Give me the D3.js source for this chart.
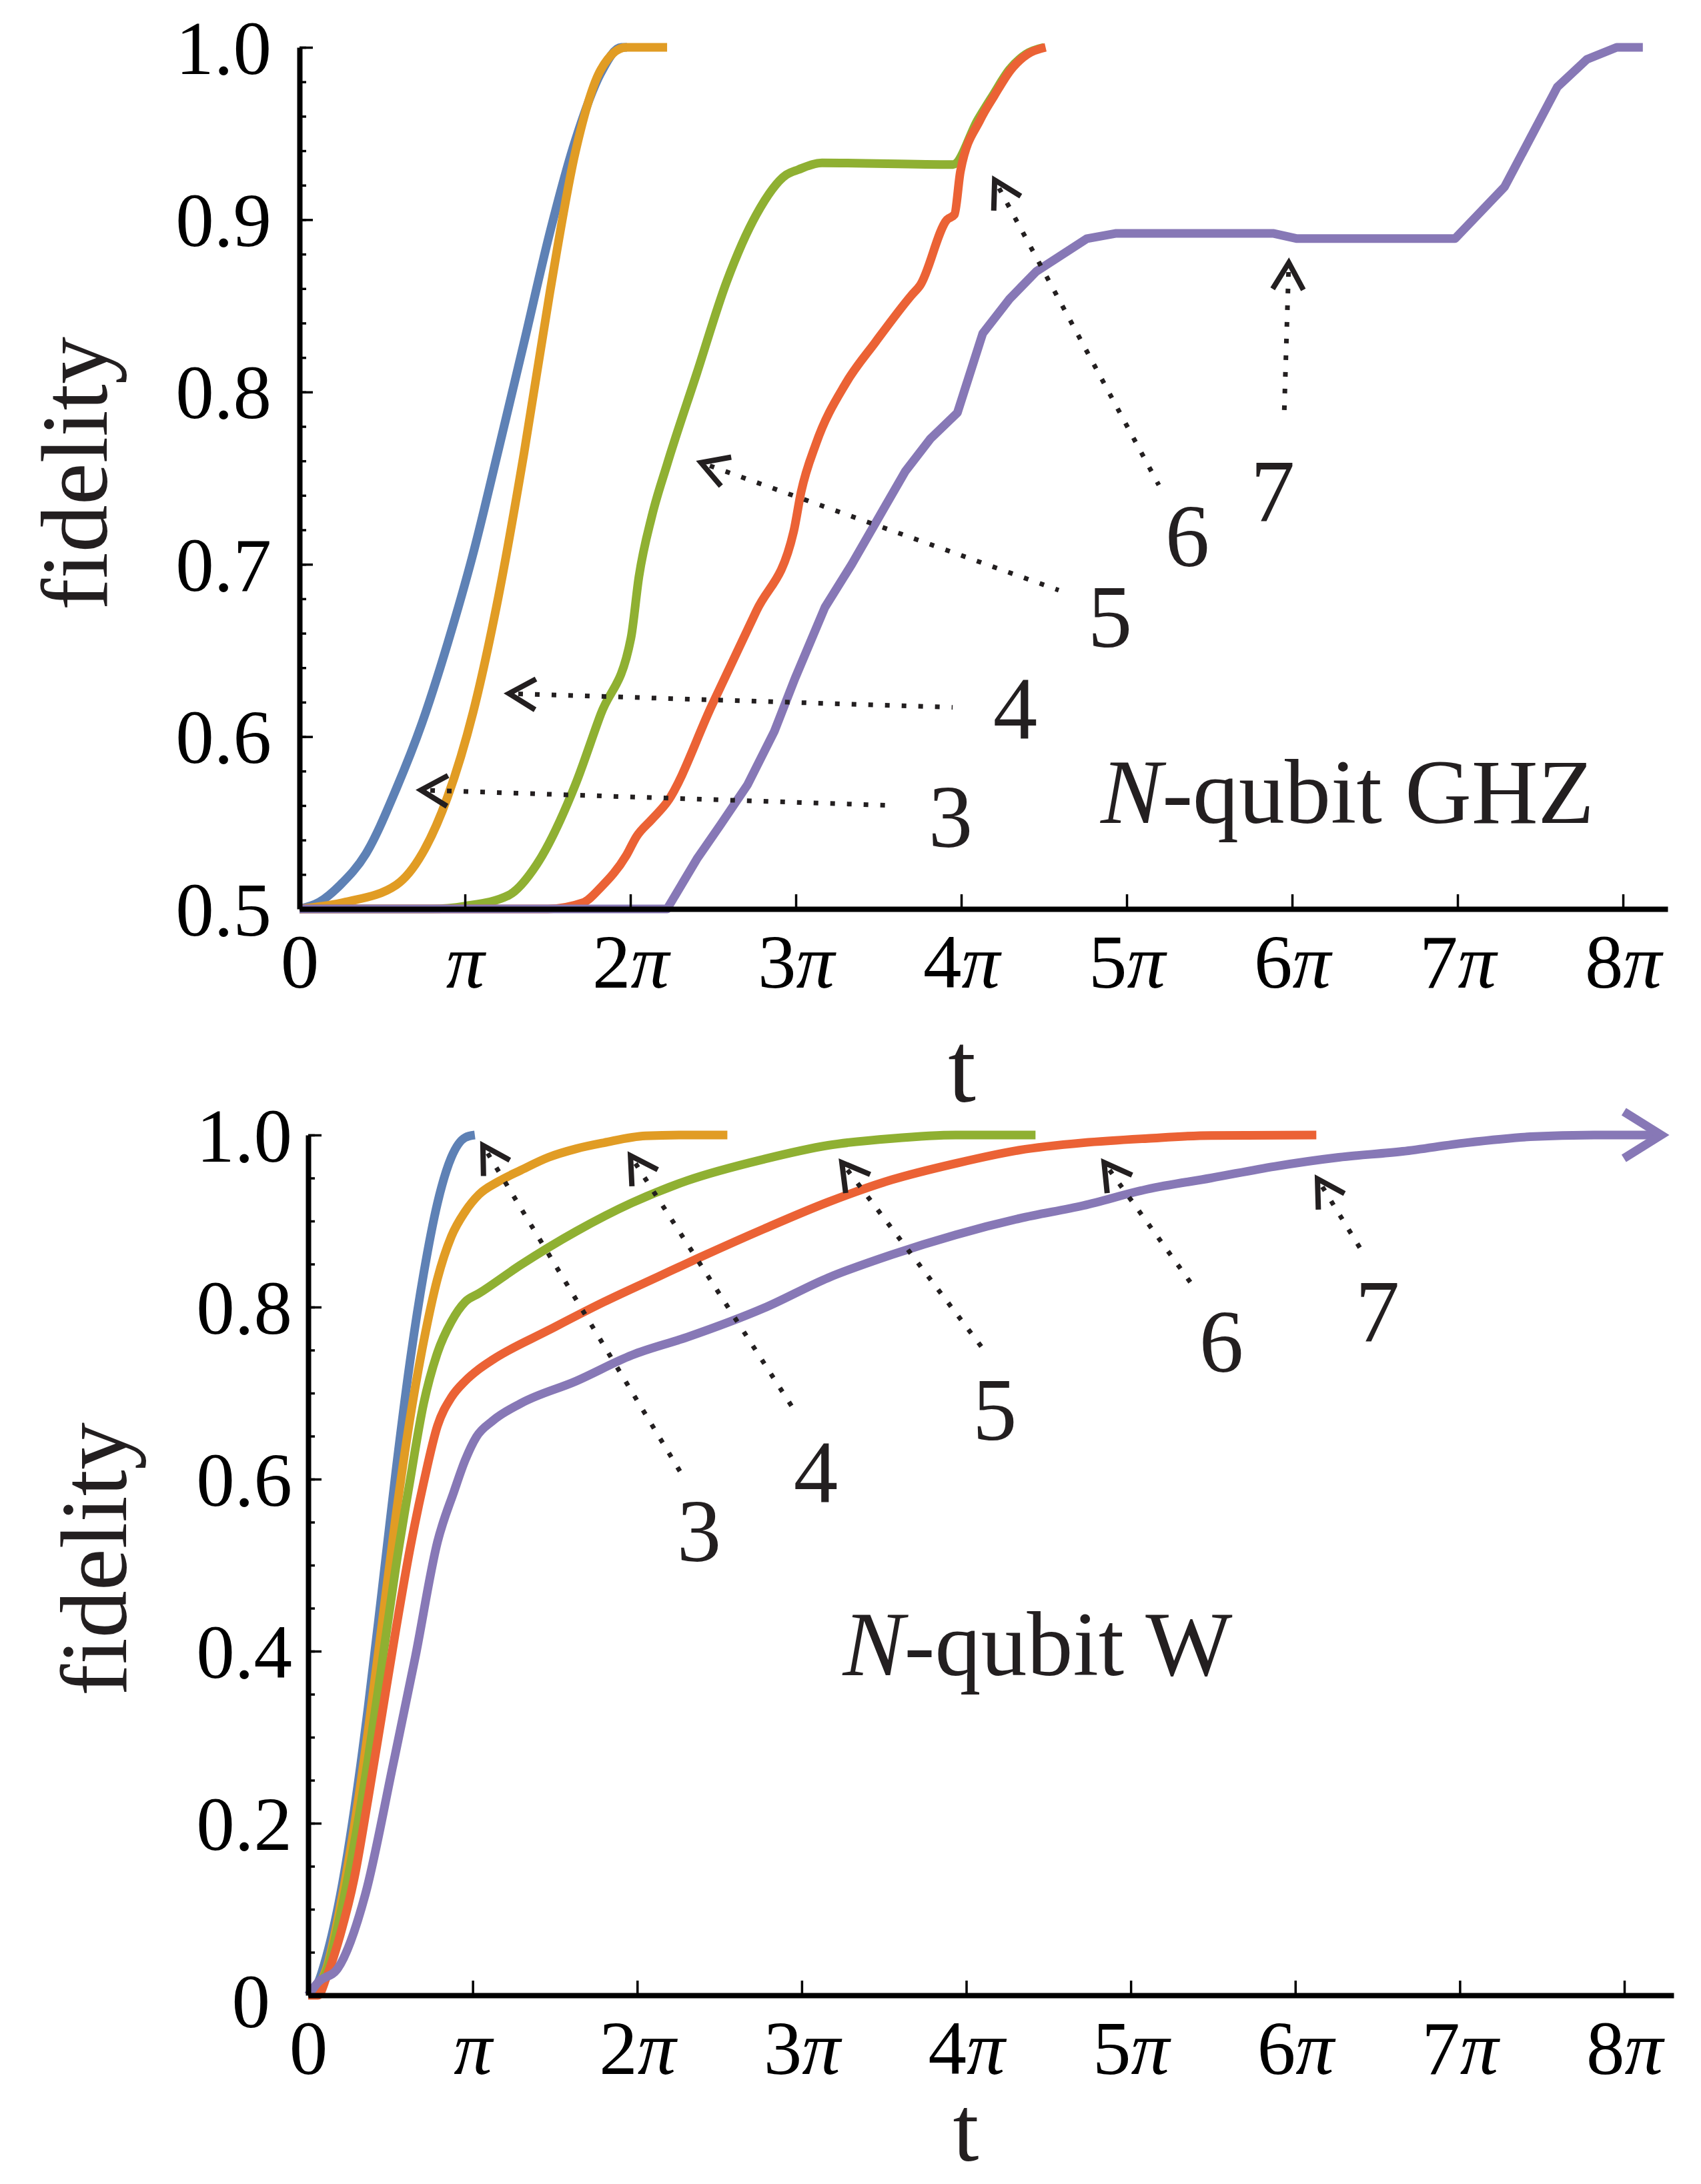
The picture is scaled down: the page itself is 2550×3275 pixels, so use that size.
<!DOCTYPE html>
<html lang="en">
<head>
<meta charset="utf-8">
<title>N-qubit GHZ and W fidelity</title>
<script src="https://d3js.org/d3.v7.min.js"></script>
<style>
  body { margin: 0; background: #fff; }
  svg { display: block; font-family: "Liberation Serif", "Times New Roman", serif; }
</style>
</head>
<body>
<div id="chart"></div>
<script>
// ---------- data (t in units of pi, fidelity) ----------
var seriesNames = ["3", "4", "5", "6", "7"];
var colors = ["#5E81B5", "#E19C24", "#8FB032", "#EB6235", "#8778B6"];

// N-qubit GHZ
var ghz3 = [[0,0.5],[0.12,0.504],[0.247,0.514],[0.401,0.532],[0.586,0.570],[0.741,0.608],[0.895,0.654],[1.049,0.706],[1.204,0.767],[1.358,0.829],[1.512,0.892],[1.667,0.946],[1.821,0.985],[1.944,1.0],[1.98,1.0]];
var ghz4 = [[0,0.5],[0.278,0.504],[0.586,0.514],[0.741,0.532],[0.895,0.565],[1.049,0.614],[1.204,0.682],[1.358,0.765],[1.512,0.857],[1.667,0.939],[1.821,0.987],[1.975,1.0],[2.222,1.0]];
var ghz5 = [[0,0.5],[0.8,0.5],[1.003,0.5017],[1.265,0.508],[1.435,0.526],[1.667,0.572],[1.821,0.613],[2.003,0.657],[2.052,0.693],[2.13,0.728],[2.222,0.758],[2.402,0.811],[2.582,0.864],[2.762,0.903],[2.942,0.926],[3.014,0.929],[3.158,0.933],[3.95,0.932],[4.1,0.958],[4.19,0.972],[4.29,0.987],[4.39,0.996],[4.5,1.0]];
var ghz6 = [[0,0.5],[1.5,0.5],[1.713,0.5036],[1.821,0.5125],[1.975,0.531],[2.037,0.542],[2.13,0.552],[2.222,0.562],[2.492,0.618],[2.762,0.673],[2.987,0.719],[3.032,0.742],[3.122,0.770],[3.302,0.805],[3.482,0.829],[3.698,0.856],[3.752,0.862],[3.914,0.900],[3.959,0.903],[3.995,0.928],[4.115,0.958],[4.2,0.972],[4.3,0.987],[4.4,0.996],[4.51,1.0]];
var ghz7 = [[0,0.5],[2.222,0.5],[2.402,0.529],[2.546,0.549],[2.708,0.572],[2.87,0.603],[2.996,0.634],[3.176,0.675],[3.338,0.700],[3.482,0.724],[3.662,0.754],[3.815,0.773],[3.977,0.788],[4.13,0.834],[4.292,0.854],[4.454,0.870],[4.76,0.889],[4.932,0.892],[5.889,0.892],[6.03,0.889],[6.985,0.889],[7.284,0.919],[7.603,0.977],[7.782,0.993],[7.962,1.0],[8.12,1.0]];

// N-qubit W
var w3 = [[0,0],[0.061,0.015],[0.111,0.045],[0.196,0.117],[0.28,0.215],[0.364,0.334],[0.449,0.471],[0.533,0.609],[0.617,0.734],[0.702,0.839],[0.786,0.921],[0.87,0.974],[0.954,0.997],[1.013,1.0]];
var w4 = [[0,0],[0.111,0.031],[0.196,0.104],[0.28,0.196],[0.364,0.307],[0.449,0.432],[0.533,0.557],[0.617,0.668],[0.702,0.760],[0.786,0.833],[0.87,0.882],[0.954,0.911],[1.039,0.931],[1.157,0.946],[1.292,0.959],[1.46,0.974],[1.629,0.984],[1.798,0.991],[2.05,0.999],[2.3,1.0],[2.548,1.0]];
var w5 = [[0,0],[0.111,0.028],[0.196,0.094],[0.28,0.176],[0.364,0.274],[0.449,0.386],[0.533,0.498],[0.617,0.596],[0.702,0.688],[0.786,0.747],[0.87,0.783],[0.954,0.806],[1.039,0.816],[1.292,0.849],[1.629,0.888],[1.966,0.921],[2.304,0.947],[2.772,0.972],[3.16,0.988],[3.548,0.996],[3.936,1.0],[4.421,1.0]];
var w6 = [[0,0],[0.06,0],[0.111,0.021],[0.196,0.071],[0.28,0.136],[0.364,0.228],[0.449,0.327],[0.533,0.425],[0.617,0.517],[0.702,0.596],[0.786,0.662],[0.87,0.695],[0.954,0.714],[1.039,0.728],[1.123,0.739],[1.46,0.773],[1.798,0.806],[2.135,0.836],[2.384,0.858],[2.772,0.891],[3.16,0.922],[3.548,0.948],[3.936,0.967],[4.324,0.9825],[4.712,0.991],[5.1,0.996],[5.488,0.9995],[6.128,1.0]];
var w7 = [[0,0],[0.06,0.015],[0.179,0.031],[0.347,0.117],[0.516,0.268],[0.651,0.393],[0.786,0.527],[0.887,0.586],[0.954,0.622],[1.022,0.649],[1.123,0.668],[1.292,0.688],[1.629,0.714],[1.966,0.744],[2.304,0.765],[2.772,0.799],[3.16,0.834],[3.548,0.861],[3.936,0.884],[4.324,0.903],[4.712,0.918],[5.1,0.937],[5.488,0.950],[5.876,0.9635],[6.264,0.974],[6.652,0.981],[7.04,0.991],[7.428,0.998],[7.816,1.0],[8.2,1.0]];

// tick values
var xTicks = [0, 1, 2, 3, 4, 5, 6, 7, 8];
var ghzYMajor = [0.5, 0.6, 0.7, 0.8, 0.9, 1.0];
var ghzYMinor = d3.range(26).map(function (i) { return 0.5 + i * 0.02; });
var wYMajor = [0, 0.2, 0.4, 0.6, 0.8, 1.0];
var wYMinor = d3.range(21).map(function (i) { return i * 0.05; });

// annotation arrows: tip, tail of dotted line, label position (data coords)
var ghzTips  = [[0.734,0.569],[1.266,0.625],[2.427,0.759],[4.202,0.923],[5.98,0.875]];
var ghzTails = [[3.597,0.560],[3.948,0.617],[4.589,0.685],[5.194,0.746],[5.952,0.787]];
var ghzLabelAt = [[3.935,0.536],[4.327,0.599],[4.899,0.652],[5.367,0.699],[5.883,0.725]];
var wTips  = [[1.062,0.988],[1.959,0.976],[3.244,0.968],[4.838,0.968],[6.135,0.949]];
var wTails = [[2.279,0.603],[2.972,0.675],[4.092,0.754],[5.373,0.826],[6.399,0.867]];
var wLabelAt = [[2.376,0.505],[3.086,0.574],[4.173,0.646],[5.551,0.725],[6.5,0.760]];

// ---------- drawing ----------
var svg = d3.select("#chart").append("svg")
    .attr("width", 2550)
    .attr("height", 3275);

function drawPanel(p) {
  var x = d3.scaleLinear().domain([0, p.xMax]).range([p.left, p.right]);
  var y = d3.scaleLinear().domain(p.yDomain).range([p.bottom, p.top]);
  var g = svg.append("g");

  // curves
  var line = d3.line()
      .x(function (d) { return x(d[0]); })
      .y(function (d) { return y(d[1]); });
  p.series.forEach(function (s, i) {
    g.append("path")
      .datum(s)
      .attr("d", line.curve(p.curves[i])(s))
      .attr("fill", "none")
      .attr("stroke", colors[i])
      .attr("stroke-width", 13)
      .attr("stroke-linejoin", "round");
  });

  // x axis
  var gx = g.append("g")
      .attr("transform", "translate(0," + p.bottom + ")")
      .call(d3.axisBottom(x).tickValues(xTicks).tickSizeInner(-22).tickSizeOuter(0));
  gx.select(".domain").attr("stroke-width", 8);
  gx.selectAll(".tick line").attr("stroke-width", 3.5);
  gx.selectAll(".tick text")
      .attr("y", 118).attr("dy", null)
      .attr("font-family", "Liberation Serif").attr("font-size", 115)
      .text(null)
      .each(function (d) {
        var t = d3.select(this);
        if (d === 0) { t.text("0"); return; }
        if (d > 1) t.append("tspan").text(d);
        t.append("tspan").attr("font-style", "italic").text("\u03C0");
      });
  gx.attr("font-family", null).attr("font-size", null);

  // y axis
  var gyMinor = g.append("g")
      .attr("transform", "translate(" + p.left + ",0)")
      .call(d3.axisLeft(y).tickValues(p.yMinor).tickSizeInner(-10).tickSizeOuter(0).tickFormat(""));
  gyMinor.select(".domain").remove();
  gyMinor.selectAll(".tick line").attr("stroke-width", 3.5);

  var gy = g.append("g")
      .attr("transform", "translate(" + p.left + ",0)")
      .call(d3.axisLeft(y).tickValues(p.yMajor).tickSizeInner(-20).tickSizeOuter(0)
            .tickPadding(p.yPad).tickFormat(p.yFormat));
  gy.select(".domain").attr("stroke-width", 8);
  gy.selectAll(".tick line").attr("stroke-width", 3.5);
  gy.selectAll(".tick text")
      .attr("font-family", "Liberation Serif").attr("font-size", 115)
      .attr("dy", "0.34em");
  if (p.zeroShift) {
    gy.selectAll(".tick text").filter(function (d) { return d === 0; })
      .attr("transform", "translate(" + p.zeroShift[0] + "," + p.zeroShift[1] + ")");
  }

  // dotted arrows and labels
  p.tips.forEach(function (tp, i) {
    var tx = x(tp[0]), ty = y(tp[1]);
    var ex = x(p.tails[i][0]), ey = y(p.tails[i][1]);
    var len = Math.hypot(tx - ex, ty - ey);
    var ux = (tx - ex) / len, uy = (ty - ey) / len;
    g.append("line")
      .attr("x1", tx - ux * 14).attr("y1", ty - uy * 14)
      .attr("x2", ex).attr("y2", ey)
      .attr("stroke", "#231f20").attr("stroke-width", 7)
      .attr("stroke-dasharray", "7 18");
    var L = 46, a = Math.PI / 6;
    var arm = function (s) {
      var c = Math.cos(s * a), sn = Math.sin(s * a);
      return [tx - L * (ux * c - uy * sn), ty - L * (ux * sn + uy * c)];
    };
    g.append("path")
      .attr("d", d3.line()([arm(1), [tx, ty], arm(-1)]))
      .attr("fill", "none").attr("stroke", "#231f20").attr("stroke-width", 8);
    g.append("text")
      .attr("x", x(p.labelAt[i][0])).attr("y", y(p.labelAt[i][1]))
      .attr("text-anchor", "middle").attr("font-size", 133).attr("fill", "#231f20")
      .text(seriesNames[i]);
  });

  // panel title
  var title = g.append("text")
      .attr("x", x(p.titleAt[0])).attr("y", y(p.titleAt[1]))
      .attr("font-size", 138).attr("fill", "#231f20");
  title.append("tspan").attr("font-style", "italic").text("N");
  title.append("tspan").text(p.titleText);

  // axis titles
  g.append("text")
      .attr("x", p.tLabel[0]).attr("y", p.tLabel[1])
      .attr("text-anchor", "middle").attr("font-size", p.tSize).attr("fill", "#231f20")
      .text("t");
  g.append("text")
      .attr("transform", "translate(" + p.fLabel[0] + "," + p.fLabel[1] + ") rotate(-90)")
      .attr("text-anchor", "middle").attr("font-size", 142).attr("fill", "#231f20")
      .text("fidelity");

  return { x: x, y: y, g: g };
}

drawPanel({
  left: 449, right: 2500, xMax: 8.27,
  top: 71, bottom: 1363, yDomain: [0.5, 1.0],
  yMajor: ghzYMajor, yMinor: ghzYMinor, yPad: 42, yFormat: d3.format(".1f"),
  series: [ghz3, ghz4, ghz5, ghz6, ghz7],
  curves: [d3.curveMonotoneX, d3.curveMonotoneX, d3.curveMonotoneX, d3.curveMonotoneX, d3.curveLinear],
  tips: ghzTips, tails: ghzTails, labelAt: ghzLabelAt,
  titleAt: [4.843, 0.550], titleText: "-qubit GHZ",
  tLabel: [1442, 1652], tSize: 150, fLabel: [160, 710]
});

var w = drawPanel({
  left: 462, right: 2509, xMax: 8.3,
  top: 1702, bottom: 2992, yDomain: [0, 1.0],
  yMajor: wYMajor, yMinor: wYMinor, yPad: 24,
  yFormat: function (d) { return d === 0 ? "0" : d3.format(".1f")(d); },
  zeroShift: [-33, 8],
  series: [w3, w4, w5, w6, w7],
  curves: [d3.curveMonotoneX, d3.curveMonotoneX, d3.curveMonotoneX, d3.curveMonotoneX, d3.curveMonotoneX],
  tips: wTips, tails: wTails, labelAt: wLabelAt,
  titleAt: [3.25, 0.372], titleText: "-qubit W",
  tLabel: [1448, 3240], tSize: 140, fLabel: [189, 2338]
});

// open arrowhead at the end of the N = 7 W curve
var last = w7[w7.length - 1];
var hx = w.x(last[0]) + 6, hy = w.y(last[1]);
w.g.append("path")
  .attr("d", d3.line()([[hx - 56, hy - 35], [hx, hy], [hx - 56, hy + 35]]))
  .attr("fill", "none").attr("stroke", colors[4]).attr("stroke-width", 13);
</script>
</body>
</html>
